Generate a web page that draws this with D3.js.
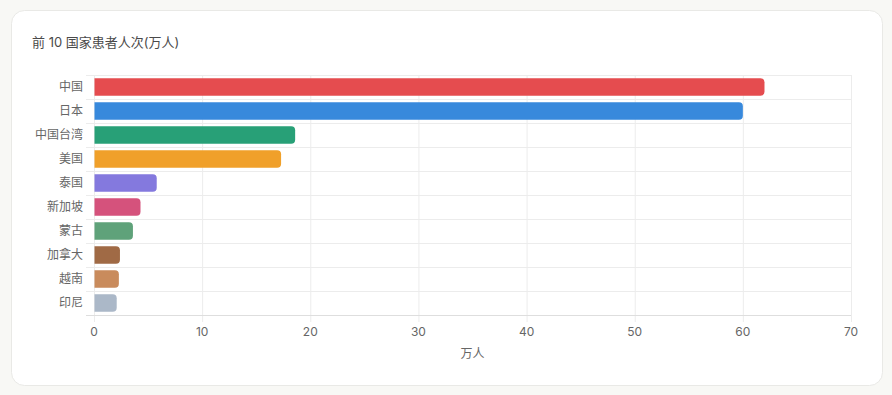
<!DOCTYPE html>
<html><head><meta charset="utf-8">
<script src="https://cdn.jsdelivr.net/npm/d3@7"></script>
<style>
html,body{margin:0;padding:0;background:#f8f8f5;}
svg{display:block;font-family:Inter,"Noto Sans CJK SC",sans-serif;}
</style></head><body>
<svg id="c" width="892" height="395"></svg>
<script>
const categories = ["中国","日本","中国台湾","美国","泰国","新加坡","蒙古","加拿大","越南","印尼"];
const values = [62.0,60.0,18.6,17.3,5.8,4.3,3.6,2.4,2.3,2.1];
const colors = ["#e54c4f","#3889dc","#28a077","#f0a02a","#8479de","#d5527c","#5fa27a","#a06a45","#c98b5c","#abb8c8"];
const xTicks = [0,10,20,30,40,50,60,70];
const title = "前 10 国家患者人次(万人)";
const xTitle = "万人";

const svg = d3.select("#c");
svg.append("rect").attr("x",11.5).attr("y",10.5).attr("width",871).attr("height",375)
  .attr("rx",13).attr("fill","#fff").attr("stroke","#e9e9e6");

svg.append("text").attr("x",32).attr("y",47).attr("font-size",13).attr("fill","#4a4a4a").text(title);

const x = d3.scaleLinear().domain([0,70]).range([94,851]);
const y = d3.scaleBand().domain(categories).range([75,315]).paddingInner(0).paddingOuter(0);
const grid = "#ececec";

// vertical grid
svg.append("g").selectAll("line").data(xTicks).join("line")
  .attr("x1",d=>x(d)+0.5).attr("x2",d=>x(d)+0.5).attr("y1",75).attr("y2",322)
  .attr("stroke",grid).attr("stroke-width",1);
// horizontal grid at band edges
const edges = categories.map(c=>y(c)).concat([y.range()[1]]);
svg.append("g").selectAll("line").data(edges).join("line")
  .attr("x1",86).attr("x2",851).attr("y1",d=>d+0.5).attr("y2",d=>d+0.5)
  .attr("stroke",(d,i)=>i===edges.length-1?"#dedede":grid).attr("stroke-width",1);

// bars
const bh = 17.3, r = 4;
function barPath(x0,x1,yc){
  const t=yc-bh/2, b=yc+bh/2, rr=Math.min(r,(x1-x0));
  return `M${x0},${t}H${x1-rr}Q${x1},${t} ${x1},${t+rr}V${b-rr}Q${x1},${b} ${x1-rr},${b}H${x0}Z`;
}
svg.append("g").selectAll("path").data(categories).join("path")
  .attr("d",(c,i)=>barPath(x(0)+0.5,x(values[i]),y(c)+y.bandwidth()/2))
  .attr("fill",(c,i)=>colors[i]);

// y labels
svg.append("g").selectAll("text").data(categories).join("text")
  .attr("x",83).attr("y",c=>y(c)+y.bandwidth()/2).attr("dy","0.35em")
  .attr("text-anchor","end").attr("font-size",12).attr("fill","#666").text(c=>c);

// x tick labels
svg.append("g").selectAll("text").data(xTicks).join("text")
  .attr("x",d=>x(d)).attr("y",332).attr("dy","0.35em")
  .attr("text-anchor","middle").attr("font-size",12).attr("fill","#666").text(d=>d);

svg.append("text").attr("x",(x(0)+x(70))/2).attr("y",354).attr("dy","0.35em")
  .attr("text-anchor","middle").attr("font-size",12).attr("fill","#666").text(xTitle);
</script></body></html>
